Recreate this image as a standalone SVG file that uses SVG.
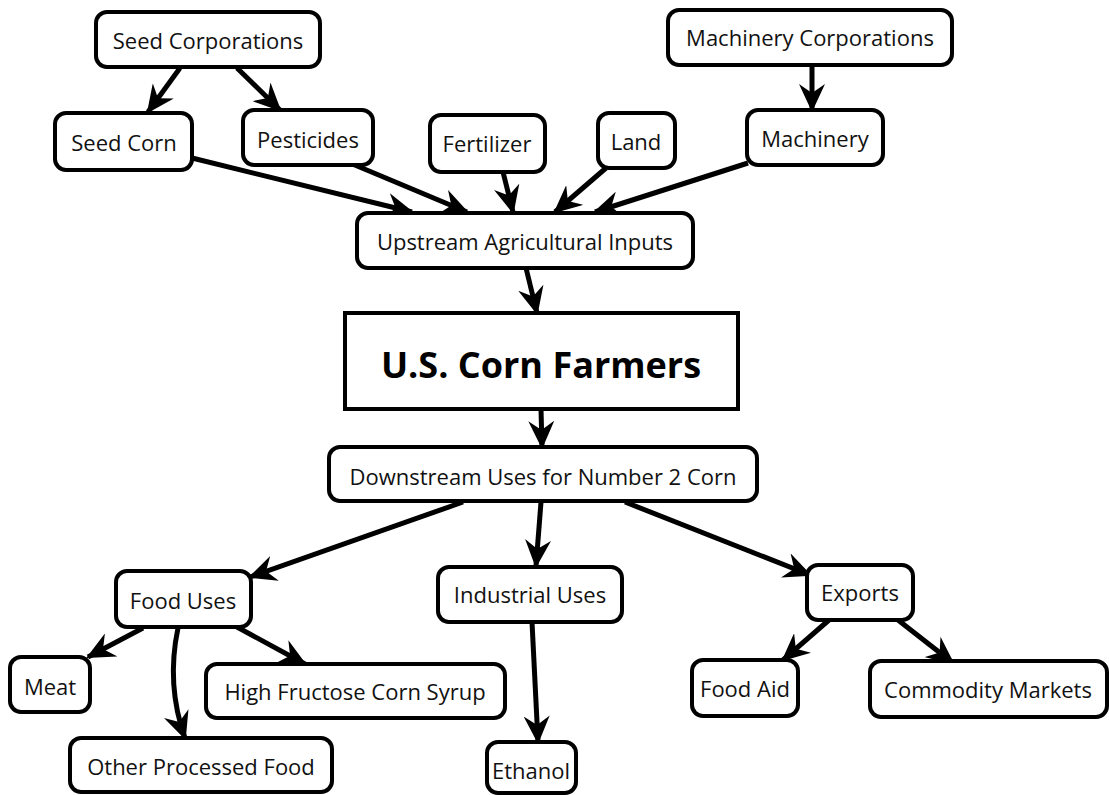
<svg xmlns="http://www.w3.org/2000/svg" width="1109" height="795" viewBox="0 0 1109 795">
  <style>
    .box { fill: #fff; stroke: #000; stroke-width: 4; }
    .lbl { font-family: "Open Sans", "Noto Sans", sans-serif; font-size: 22px; fill: #111; text-anchor: middle; dominant-baseline: central; }
    .title { font-family: "Open Sans", "Noto Sans", sans-serif; font-size: 36px; font-weight: bold; fill: #000; text-anchor: middle; dominant-baseline: central; }
    .edge { fill: none; stroke: #000; stroke-width: 5; marker-end: url(#head); }
  </style>
  <defs>
    <marker id="head" viewBox="0 0 28 26" refX="26" refY="13" markerWidth="28" markerHeight="26" markerUnits="userSpaceOnUse" orient="auto">
      <path d="M0,0 L28,13 L0,26 L9,13 z" fill="#000"/>
    </marker>
  </defs>
  <rect width="1109" height="795" fill="#fff"/>

  <g id="connectors">
    <path class="edge" d="M180,68 L148,112"/>
    <path class="edge" d="M237,68 L280,110"/>
    <path class="edge" d="M192,158 L412,212"/>
    <path class="edge" d="M350,163 L467,212"/>
    <path class="edge" d="M503,172 L513,212"/>
    <path class="edge" d="M606,168 L555,212"/>
    <path class="edge" d="M748,163 L595,212"/>
    <path class="edge" d="M812,65 L812,110"/>
    <path class="edge" d="M526,268 L537,313"/>
    <path class="edge" d="M541,409 L542,447"/>
    <path class="edge" d="M463,502 L250,577"/>
    <path class="edge" d="M541,502 L536,566"/>
    <path class="edge" d="M625,502 L810,575"/>
    <path class="edge" d="M143,628 L88,657"/>
    <path class="edge" d="M178,628 Q166,685 185,738"/>
    <path class="edge" d="M237,627 L305,664"/>
    <path class="edge" d="M532,622 L538,742"/>
    <path class="edge" d="M829,620 L783,660"/>
    <path class="edge" d="M898,620 L953,663"/>
  </g>

  <g id="seed-corporations"><rect class="box" x="96" y="12" width="224" height="55" rx="11"/><text class="lbl" x="208" y="40">Seed Corporations</text></g>
  <g id="seed-corn"><rect class="box" x="55" y="113" width="137" height="57" rx="11"/><text class="lbl" x="124" y="142">Seed Corn</text></g>
  <g id="pesticides"><rect class="box" x="243" y="110" width="130" height="55" rx="11"/><text class="lbl" x="308" y="139">Pesticides</text></g>
  <g id="fertilizer"><rect class="box" x="430" y="115" width="115" height="57" rx="11"/><text class="lbl" x="487" y="143">Fertilizer</text></g>
  <g id="land"><rect class="box" x="598" y="113" width="77" height="55" rx="11"/><text class="lbl" x="636" y="141">Land</text></g>
  <g id="machinery-corporations"><rect class="box" x="668" y="10" width="284" height="55" rx="11"/><text class="lbl" x="810" y="37">Machinery Corporations</text></g>
  <g id="machinery"><rect class="box" x="747" y="110" width="136" height="55" rx="11"/><text class="lbl" x="815" y="138">Machinery</text></g>
  <g id="upstream"><rect class="box" x="357" y="213" width="336" height="55" rx="11"/><text class="lbl" x="525" y="241">Upstream Agricultural Inputs</text></g>
  <g id="farmers"><rect class="box" x="345" y="313" width="393" height="96"/><text class="title" x="541" y="364">U.S. Corn Farmers</text></g>
  <g id="downstream"><rect class="box" x="329" y="447" width="428" height="54" rx="11"/><text class="lbl" x="543" y="476">Downstream Uses for Number 2 Corn</text></g>
  <g id="food-uses"><rect class="box" x="116" y="571" width="135" height="56" rx="11"/><text class="lbl" x="183" y="600">Food Uses</text></g>
  <g id="industrial-uses"><rect class="box" x="438" y="567" width="184" height="55" rx="11"/><text class="lbl" x="530" y="594">Industrial Uses</text></g>
  <g id="exports"><rect class="box" x="807" y="565" width="106" height="55" rx="11"/><text class="lbl" x="860" y="592">Exports</text></g>
  <g id="meat"><rect class="box" x="10" y="657" width="80" height="55" rx="11"/><text class="lbl" x="50" y="686">Meat</text></g>
  <g id="hfcs"><rect class="box" x="206" y="664" width="299" height="54" rx="11"/><text class="lbl" x="355" y="691">High Fructose Corn Syrup</text></g>
  <g id="other-processed-food"><rect class="box" x="70" y="738" width="262" height="54" rx="11"/><text class="lbl" x="201" y="766">Other Processed Food</text></g>
  <g id="ethanol"><rect class="box" x="487" y="742" width="89" height="51" rx="11"/><text class="lbl" x="531" y="770">Ethanol</text></g>
  <g id="food-aid"><rect class="box" x="692" y="660" width="106" height="56" rx="11"/><text class="lbl" x="745" y="688">Food Aid</text></g>
  <g id="commodity-markets"><rect class="box" x="870" y="661" width="237" height="56" rx="11"/><text class="lbl" x="988" y="689">Commodity Markets</text></g>
</svg>
